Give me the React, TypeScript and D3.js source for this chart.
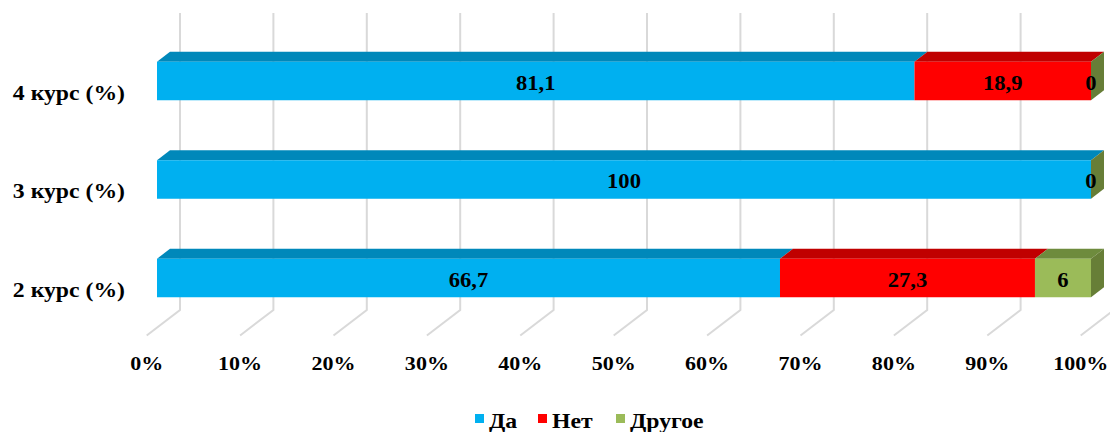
import { useEffect, useRef } from "react";
import * as d3 from "d3";

const CATEGORIES = ["4 курс (%)", "3 курс (%)", "2 курс (%)"];
const SERIES = ["Да", "Нет", "Другое"];
const DA = [81.1, 100, 66.7];
const NET = [18.9, 0, 27.3];
const OTHER = [0, 0, 6];
const TICKS = [0, 10, 20, 30, 40, 50, 60, 70, 80, 90, 100];

const FRONT = ["#00B0F0", "#FF0000", "#9BBB59"];
const TOP = ["#0088BA", "#C00000", "#6E8B3D"];
const SIDE = ["#0077A3", "#A80000", "#677E37"];

const FONT = "'Liberation Serif', 'Times New Roman', serif";
const STRETCH = 1.13;

export default function App() {
  const svgRef = useRef<SVGSVGElement>(null);

  useEffect(() => {
    if (!svgRef.current) return;
    const svg = d3.select(svgRef.current);
    svg.selectAll("*").remove();

    const W = 1110;
    const H = 432;
    svg.attr("width", W).attr("height", H);

    // front of bars, floor front edge, back wall
    const x = d3.scaleLinear().domain([0, 100]).range([157, 1091]);
    const xFloor = d3.scaleLinear().domain([0, 100]).range([146.7, 1080.7]);
    const xBack = d3.scaleLinear().domain([0, 100]).range([180, 1114]);
    const y = d3.scalePoint<string>().domain(CATEGORIES).range([81, 278]);

    const barH = 38.5;
    const dx = 13;
    const dy = -10;
    const gridTop = 13;
    const floorBack = 310;
    const floorFront = 335.5;

    const g = svg.append("g");

    const label = (tx: number, ty: number, txt: string, size: number, anchor: string) =>
      g.append("text")
        .attr("transform", `translate(${tx},${ty}) scale(${STRETCH},1)`)
        .attr("text-anchor", anchor)
        .attr("font-family", FONT)
        .attr("font-weight", "bold")
        .attr("font-size", size)
        .attr("fill", "#000")
        .text(txt);

    // gridlines
    TICKS.forEach((t) => {
      g.append("path")
        .attr(
          "d",
          `M${xBack(t)},${gridTop}L${xBack(t)},${floorBack}L${xFloor(t)},${floorFront}`
        )
        .attr("fill", "none")
        .attr("stroke", "#d9d9d9")
        .attr("stroke-width", 2);
    });

    // tick labels
    TICKS.forEach((t) => label(xFloor(t), 370, `${t}%`, 19.5, "middle"));

    // category labels
    CATEGORIES.forEach((c) => label(125, y(c)! + 18.5, c, 21, "end"));

    const values = [DA, NET, OTHER];

    CATEGORIES.forEach((c, ci) => {
      const cy = y(c)!;
      const top = cy - barH / 2;
      const bottom = cy + barH / 2;
      let acc = 0;
      const segs = values.map((vals, si) => {
        const s = { si, x0: x(acc), x1: x(acc + vals[ci]), v: vals[ci] };
        acc += vals[ci];
        return s;
      });

      segs.forEach((s) => {
        // top face
        g.append("path")
          .attr(
            "d",
            `M${s.x0},${top}L${s.x0 + dx},${top + dy}L${s.x1 + dx},${top + dy}L${s.x1},${top}Z`
          )
          .attr("fill", TOP[s.si]);
        // front face
        g.append("rect")
          .attr("x", s.x0)
          .attr("y", top)
          .attr("width", s.x1 - s.x0)
          .attr("height", barH)
          .attr("fill", FRONT[s.si]);
      });

      // right side face of the last segment
      const last = segs[segs.length - 1];
      g.append("path")
        .attr(
          "d",
          `M${last.x1},${top}L${last.x1 + dx},${top + dy}L${last.x1 + dx},${bottom + dy}L${last.x1},${bottom}Z`
        )
        .attr("fill", SIDE[last.si]);

      // value labels (the zero "Нет" of 3 курс sits under the zero "Другое")
      segs.forEach((s) => {
        if (ci === 1 && s.si === 1) return;
        label((s.x0 + s.x1) / 2, cy + 8.5, String(s.v).replace(".", ","), 20, "middle");
      });
    });

    // legend
    const legendX = [475, 538, 616];
    SERIES.forEach((s, i) => {
      g.append("rect")
        .attr("x", legendX[i])
        .attr("y", 414)
        .attr("width", 9)
        .attr("height", 9)
        .attr("fill", FRONT[i]);
      label(legendX[i] + 14, 428, s, 21, "start");
    });
  }, []);

  return (
    <svg
      ref={svgRef}
      style={{ position: "absolute", left: 0, top: 0, display: "block" }}
    />
  );
}
